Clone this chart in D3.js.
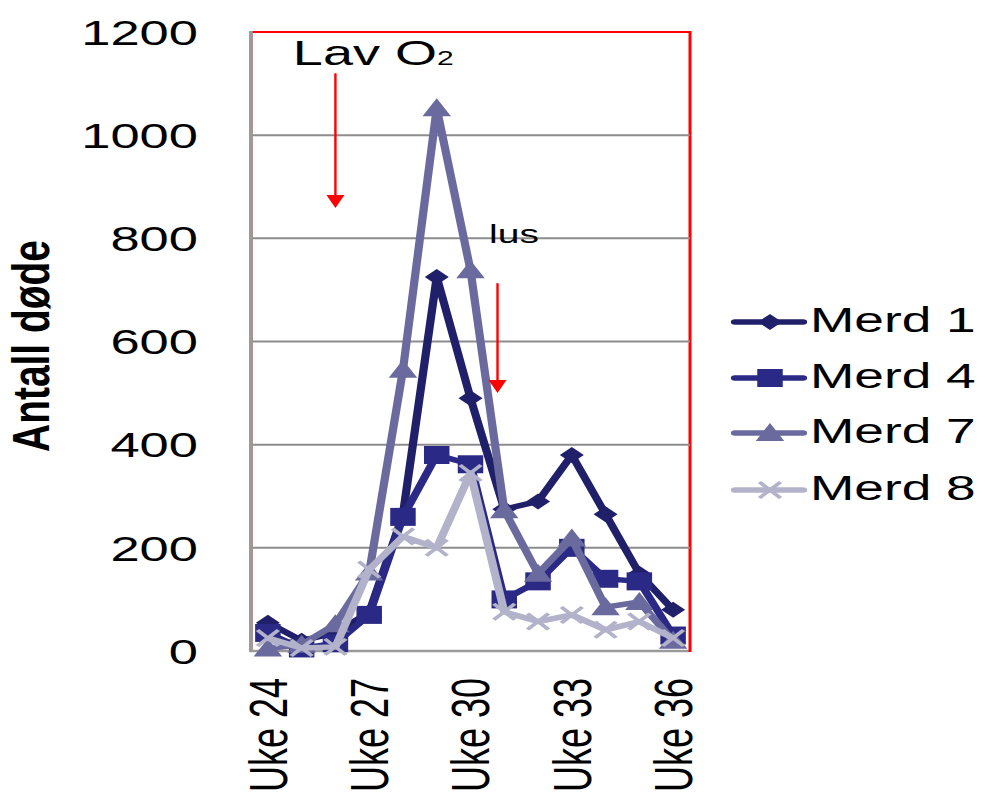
<!DOCTYPE html>
<html>
<head>
<meta charset="utf-8">
<script src="https://cdn.jsdelivr.net/npm/d3@7/dist/d3.min.js"></script>
<style>
  html, body { margin: 0; padding: 0; background: #fff; }
  svg { display: block; }
  text { font-family: "Liberation Sans", Arial, sans-serif; fill: #000; }
</style>
</head>
<body>
<svg id="chart"></svg>
<script>
// ---- data ----
const weeks = ["Uke 24","Uke 25","Uke 26","Uke 27","Uke 28","Uke 29","Uke 30","Uke 31","Uke 32","Uke 33","Uke 34","Uke 35","Uke 36"];
const xTickLabels = ["Uke 24","Uke 27","Uke 30","Uke 33","Uke 36"];
const yTicks = [0, 200, 400, 600, 800, 1000, 1200];
const seriesNames = ["Merd 1", "Merd 4", "Merd 7", "Merd 8"];
const merd1 = [55, 20, 35, 75, 265, 725, 490, 275, 290, 380, 265, 150, 80];
const merd4 = [35, 5, 15, 70, 260, 380, 362, 100, 135, 200, 140, 135, 30];
const merd7 = [5, 12, 52, 152, 545, 1052, 738, 273, 150, 218, 85, 95, 20];
const merd8 = [25, 6, 8, 158, 222, 200, 345, 76, 57, 70, 41, 57, 25];
const seriesValues = [merd1, merd4, merd7, merd8];
const seriesColors = ["#20206a", "#2a2a86", "#6a6a9e", "#b2b2ca"];
const seriesMarkers = ["diamond", "square", "triangle", "cross"];
// annotation text and arrows (positions in data units: week number, value)
const annotations = [
  { text: "Lav O", sub: "2", week: 24.74, value: 1136, size: 36, subSize: 20 },
  { text: "lus", sub: "", week: 30.55, value: 791, size: 26, subSize: 0 }
];
const arrows = [
  { week: 26, from: 1120, to: 859 },
  { week: 30.8, from: 713, to: 500 }
];

// ---- layout (drawn in an un-stretched space, then stretched horizontally) ----
const W = 985, H = 797, S = 1.5;
const VW = W / S;
const pLeft = 251 / S, pRight = 690 / S, pTop = 32, pBottom = 651;

const svg = d3.select("#chart")
  .attr("width", W).attr("height", H)
  .attr("viewBox", `0 0 ${VW} ${H}`)
  .attr("preserveAspectRatio", "none");

const x = d3.scaleBand().domain(weeks).range([pLeft, pRight]).padding(0);
const y = d3.scaleLinear().domain([0, 1200]).range([pBottom, pTop]);
const xc = d => x(d) + x.bandwidth() / 2;
const xw = w => x(weeks[0]) + x.bandwidth() / 2 + (w - 24) * x.step();

// red plot border
svg.append("rect")
  .attr("x", pLeft).attr("y", pTop)
  .attr("width", pRight - pLeft).attr("height", pBottom - pTop)
  .attr("fill", "none").attr("stroke", "#ff0000").attr("stroke-width", 2);

// gridlines
svg.append("g").selectAll("line")
  .data(yTicks.filter(t => t > 0 && t < 1200))
  .join("line")
  .attr("x1", pLeft).attr("x2", pRight)
  .attr("y1", d => y(d)).attr("y2", d => y(d))
  .attr("stroke", "#8c8c8c").attr("stroke-width", 2);

// axes lines (gray)
svg.append("line").attr("x1", pLeft).attr("x2", pLeft).attr("y1", pTop - 1).attr("y2", pBottom)
  .attr("stroke", "#9a9a9a").attr("stroke-width", 2.4);
svg.append("line").attr("x1", pLeft - 1).attr("x2", pRight - 1).attr("y1", pBottom).attr("y2", pBottom)
  .attr("stroke", "#9a9a9a").attr("stroke-width", 2.4);

// y axis labels
const yAxis = svg.append("g")
  .attr("transform", `translate(${pLeft},0)`)
  .call(d3.axisLeft(y).tickValues(yTicks).tickFormat(d3.format("d")).tickSize(0).tickPadding(pLeft - 132));
yAxis.select(".domain").remove();
yAxis.selectAll("text")
  .attr("font-size", 35)
  .attr("font-family", '"Liberation Sans", Arial, sans-serif')
  .attr("fill", "#000")
  .attr("dy", "0.35em");

// x axis labels
const xAxis = svg.append("g")
  .attr("transform", `translate(0,${pBottom})`)
  .call(d3.axisBottom(x).tickValues(xTickLabels).tickSize(0));
xAxis.select(".domain").remove();
xAxis.selectAll("text")
  .attr("font-size", 36)
  .attr("font-family", '"Liberation Sans", Arial, sans-serif')
  .attr("fill", "#000")
  .attr("transform", "rotate(-90)")
  .attr("text-anchor", "end")
  .attr("x", -27).attr("y", 0).attr("dy", "0.35em");

// y axis title
svg.append("text")
  .attr("transform", `translate(21,346) rotate(-90)`)
  .attr("text-anchor", "middle")
  .attr("dy", "0.35em")
  .attr("font-size", 34)
  .attr("font-weight", "bold")
  .attr("textLength", 212)
  .attr("lengthAdjust", "spacingAndGlyphs")
  .text("Antall døde");

// marker shapes
function markerPath(type) {
  switch (type) {
    case "diamond": return "M0,-8L8,0L0,8L-8,0Z";
    case "square": return "M-8.5,-9L8.5,-9L8.5,9L-8.5,9Z";
    case "triangle": return "M0,-10L9.5,8L-9.5,8Z";
    case "cross": return "M-7,-8L7,8M7,-8L-7,8";
  }
}
function drawMarker(g, type, color) {
  const p = g.append("path").attr("d", markerPath(type));
  if (type === "cross") p.attr("fill", "none").attr("stroke", color).attr("stroke-width", 3);
  else p.attr("fill", color);
}

// series
const line = d3.line().x((d, i) => xc(weeks[i])).y(d => y(d));
seriesValues.forEach((vals, si) => {
  const g = svg.append("g");
  g.append("path").datum(vals)
    .attr("d", line)
    .attr("fill", "none")
    .attr("stroke", seriesColors[si])
    .attr("stroke-width", 5.5)
    .attr("stroke-linejoin", "round");
  vals.forEach((v, i) => {
    const mg = g.append("g").attr("transform", `translate(${xc(weeks[i])},${y(v)})`);
    drawMarker(mg, seriesMarkers[si], seriesColors[si]);
  });
});

// legend
const legendY = [322, 378, 433, 490];
seriesNames.forEach((name, si) => {
  const g = svg.append("g").attr("transform", `translate(0,${legendY[si]})`);
  g.append("line").attr("x1", 735 / S).attr("x2", 803 / S).attr("y1", 0).attr("y2", 0)
    .attr("stroke", seriesColors[si]).attr("stroke-width", 5.5).attr("stroke-linecap", "round");
  const mg = g.append("g").attr("transform", `translate(${770 / S},0)`);
  drawMarker(mg, seriesMarkers[si], seriesColors[si]);
  g.append("text").attr("x", 810 / S).attr("y", -2).attr("dy", "0.35em")
    .attr("font-size", 35.5).text(name);
});

// annotations
annotations.forEach(a => {
  const t = svg.append("text").attr("x", xw(a.week)).attr("y", y(a.value))
    .attr("font-size", a.size);
  t.append("tspan").text(a.text);
  if (a.sub) t.append("tspan").attr("font-size", a.subSize).text(a.sub);
});
arrows.forEach(a => {
  const ax = xw(a.week);
  svg.append("line").attr("x1", ax).attr("x2", ax)
    .attr("y1", y(a.from)).attr("y2", y(a.to) - 12)
    .attr("stroke", "#ff0000").attr("stroke-width", 1.6);
  svg.append("path")
    .attr("d", `M${ax - 6},${y(a.to) - 13}L${ax + 6},${y(a.to) - 13}L${ax},${y(a.to)}Z`)
    .attr("fill", "#ff0000");
});
</script>
</body>
</html>
